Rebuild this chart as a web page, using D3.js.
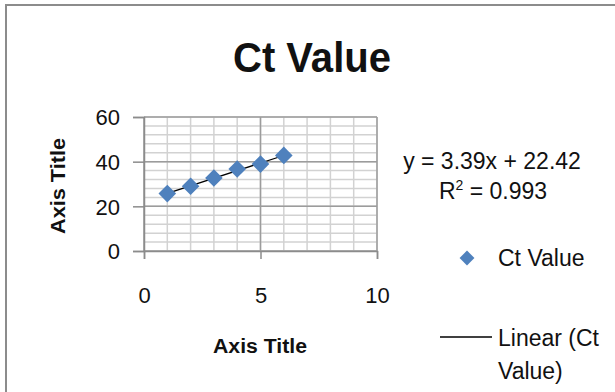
<!DOCTYPE html>
<html>
<head>
<meta charset="utf-8">
<script src="https://cdn.jsdelivr.net/npm/d3@7"></script>
<style>
  body { margin: 0; background: #fff; }
  svg { display: block; font-family: "Liberation Sans", Arial, sans-serif; }
</style>
</head>
<body>
<svg id="chart" width="615" height="392"></svg>
<script>
// data
const xValues = [1, 2, 3, 4, 5, 6];
const ctValues = [25.7, 29.0, 32.7, 36.7, 38.9, 42.8];
const xTicks = [0, 5, 10];
const yTicks = [0, 20, 40, 60];
const trendSlope = 3.39;
const trendIntercept = 22.42;
const equationLabel = "y = 3.39x + 22.42";
const r2Label = "0.993";

const svg = d3.select("#chart");
const width = 615, height = 392;

// outer chart border (only top and left show in the crop)
svg.append("path")
  .attr("d", "M6," + height + " V5 H" + width)
  .attr("fill", "none")
  .attr("stroke", "#8c8c8c")
  .attr("stroke-width", 2);

const x = d3.scaleLinear().domain([0, 10]).range([144, 377]);
const y = d3.scaleLinear().domain([0, 60]).range([251, 117]);

// minor grid
const g = svg.append("g");
g.selectAll(".vminor")
  .data(d3.range(0, 11))
  .enter().append("line")
  .attr("x1", d => x(d)).attr("x2", d => x(d))
  .attr("y1", y(0)).attr("y2", y(60))
  .attr("stroke", "#d2d2d2").attr("stroke-width", 1.5);
g.selectAll(".hminor")
  .data(d3.range(0, 61, 4))
  .enter().append("line")
  .attr("x1", x(0)).attr("x2", x(10))
  .attr("y1", d => y(d)).attr("y2", d => y(d))
  .attr("stroke", "#d2d2d2").attr("stroke-width", 1.5);

// major grid
g.selectAll(".vmajor")
  .data(xTicks)
  .enter().append("line")
  .attr("x1", d => x(d)).attr("x2", d => x(d))
  .attr("y1", y(0)).attr("y2", y(60))
  .attr("stroke", "#9c9c9c").attr("stroke-width", 1.5);
g.selectAll(".hmajor")
  .data(yTicks)
  .enter().append("line")
  .attr("x1", x(0)).attr("x2", x(10))
  .attr("y1", d => y(d)).attr("y2", d => y(d))
  .attr("stroke", "#9c9c9c").attr("stroke-width", 1.5);

// axes
const xAxis = svg.append("g")
  .attr("transform", `translate(0,${y(0)})`)
  .call(d3.axisBottom(x).tickValues(xTicks).tickSize(8).tickPadding(28));
const yAxis = svg.append("g")
  .attr("transform", `translate(${x(0)},0)`)
  .call(d3.axisLeft(y).tickValues(yTicks).tickSize(11).tickPadding(13));

[xAxis, yAxis].forEach(a => {
  a.select(".domain").attr("stroke", "#8c8c8c").attr("stroke-width", 1.5);
  a.selectAll(".tick line").attr("stroke", "#8c8c8c").attr("stroke-width", 1.5);
  a.selectAll(".tick text")
    .attr("font-family", "inherit")
    .attr("font-size", 22)
    .attr("fill", "#111");
});
yAxis.selectAll(".tick text").attr("dy", "0.36em");

// trendline
svg.append("line")
  .attr("x1", x(d3.min(xValues))).attr("y1", y(trendIntercept + trendSlope * d3.min(xValues)))
  .attr("x2", x(d3.max(xValues))).attr("y2", y(trendIntercept + trendSlope * d3.max(xValues)))
  .attr("stroke", "#000").attr("stroke-width", 1.3);

// diamonds
const diamond = d3.symbol().type(d3.symbolSquare).size(155);
svg.selectAll(".pt")
  .data(xValues.map((d, i) => ({ x: d, y: ctValues[i] })))
  .enter().append("path")
  .attr("d", diamond)
  .attr("transform", d => `translate(${x(d.x)},${y(d.y)}) rotate(45)`)
  .attr("fill", "#4f81bd");

// titles
svg.append("text")
  .attr("x", 312).attr("y", 72)
  .attr("text-anchor", "middle")
  .attr("font-size", 42).attr("font-weight", "bold")
  .attr("textLength", 158).attr("lengthAdjust", "spacingAndGlyphs")
  .attr("fill", "#111")
  .text("Ct Value");

svg.append("text")
  .attr("x", 260).attr("y", 353)
  .attr("text-anchor", "middle")
  .attr("font-size", 20).attr("font-weight", "bold")
  .attr("textLength", 94).attr("lengthAdjust", "spacingAndGlyphs")
  .attr("fill", "#111")
  .text("Axis Title");

svg.append("text")
  .attr("transform", "translate(65,186) rotate(-90)")
  .attr("text-anchor", "middle")
  .attr("font-size", 20).attr("font-weight", "bold")
  .attr("textLength", 96).attr("lengthAdjust", "spacingAndGlyphs")
  .attr("fill", "#111")
  .text("Axis Title");

// trendline label
svg.append("text")
  .attr("x", 492).attr("y", 169)
  .attr("text-anchor", "middle")
  .attr("font-size", 23)
  .attr("fill", "#111")
  .text(equationLabel);
const r2 = svg.append("text")
  .attr("x", 493).attr("y", 199)
  .attr("text-anchor", "middle")
  .attr("font-size", 23)
  .attr("fill", "#111");
r2.append("tspan").text("R");
r2.append("tspan").attr("font-size", 14).attr("dy", -9).text("2");
r2.append("tspan").attr("dy", 9).text(" = " + r2Label);

// legend
svg.append("path")
  .attr("d", d3.symbol().type(d3.symbolSquare).size(110))
  .attr("transform", "translate(467,258) rotate(45)")
  .attr("fill", "#4f81bd");
svg.append("text")
  .attr("x", 498).attr("y", 266)
  .attr("font-size", 23)
  .attr("fill", "#111")
  .text("Ct Value");

svg.append("line")
  .attr("x1", 440).attr("x2", 492)
  .attr("y1", 337).attr("y2", 337)
  .attr("stroke", "#000").attr("stroke-width", 1.3);
svg.append("text")
  .attr("x", 498).attr("y", 346)
  .attr("font-size", 23)
  .attr("fill", "#111")
  .text("Linear (Ct");
svg.append("text")
  .attr("x", 498).attr("y", 379)
  .attr("font-size", 23)
  .attr("fill", "#111")
  .text("Value)");
</script>
</body>
</html>
